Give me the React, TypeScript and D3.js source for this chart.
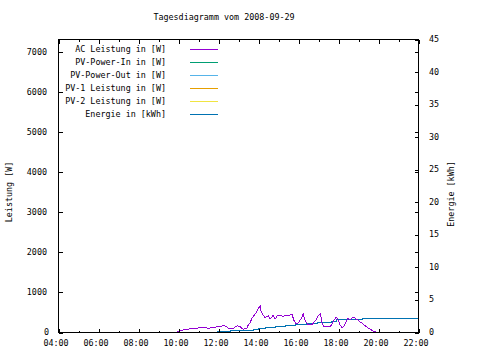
import React from "react";
import * as d3 from "d3";

const title = "Tagesdiagramm vom 2008-09-29";
const yLabel = "Leistung [W]";
const y2Label = "Energie [kWh]";

const xTickHours = [4, 6, 8, 10, 12, 14, 16, 18, 20, 22];
const xTickLabels = ["04:00", "06:00", "08:00", "10:00", "12:00", "14:00", "16:00", "18:00", "20:00", "22:00"];
const xMinorHours = [5, 7, 9, 11, 13, 15, 17, 19, 21];
const yTicks = [0, 1000, 2000, 3000, 4000, 5000, 6000, 7000];
const y2Ticks = [0, 5, 10, 15, 20, 25, 30, 35, 40, 45];

const seriesNames = [
  "AC Leistung in [W]",
  "PV-Power-In in [W]",
  "PV-Power-Out in [W]",
  "PV-1 Leistung in [W]",
  "PV-2 Leistung in [W]",
  "Energie in [kWh]",
];
const seriesColors = ["#9400d3", "#009e73", "#56b4e9", "#e69f00", "#f0e442", "#0072b2"];

const acTimes = [
  "09:56", "09:59", "10:05", "10:14", "10:23", "10:32", "10:41", "10:50", "10:59", "11:08",
  "11:17", "11:26", "11:35", "11:44", "11:53", "12:02", "12:11", "12:17", "12:23", "12:29",
  "12:35", "12:44", "12:56", "13:05", "13:14", "13:26", "13:29", "13:35", "13:41", "13:50",
  "13:56", "13:59", "14:05", "14:08", "14:14", "14:20", "14:29", "14:35", "14:44", "14:50",
  "14:56", "15:05", "15:14", "15:23", "15:29", "15:35", "15:41", "15:47", "15:53", "15:59",
  "16:05", "16:11", "16:14", "16:17", "16:23", "16:29", "16:35", "16:41", "16:47", "16:53",
  "16:59", "17:05", "17:08", "17:11", "17:17", "17:23", "17:29", "17:35", "17:41", "17:47",
  "17:53", "17:59", "18:05", "18:11", "18:17", "18:23", "18:29", "18:35", "18:41", "18:47",
  "18:53", "18:59", "19:05", "19:11", "19:17", "19:23", "19:29", "19:35", "19:41", "19:47",
  "19:53", "19:59", "20:05", "20:30", "20:50", "21:02",
];
const acWatts: (number | null)[] = [
  0, 25, 38, 62, 75, 88, 100, 100, 112, 125,
  125, 112, 112, 125, 138, 150, 162, 175, 150, 112,
  88, 100, 170, 145, 80, 112, 188, 250, 362, 462,
  538, 588, 670, 520, 438, 370, 420, 338, 425, 338,
  412, 438, 395, 438, 412, 438, 438, 288, 212, 238,
  312, 388, 462, 362, 262, 188, 188, 200, 262, 312,
  412, 462, 362, 212, 138, 138, 138, 150, 212, 312,
  388, 312, 188, 112, 162, 262, 362, 312, 362, 388,
  338, 312, 262, 238, 188, 150, 112, 88, 50, 25,
  12, 0, 0, null, 10, 10,
];

const energyTimes = [
  "09:59", "10:10", "11:56", "12:35", "13:44", "14:00", "14:20", "14:50", "15:20", "15:50",
  "16:25", "16:58", "17:40", "17:55", "19:12", "22:00",
];
const energyKwh = [
  0.02, 0.06, 0.2, 0.35, 0.5, 0.64, 0.8, 0.9, 1.05, 1.2,
  1.35, 1.5, 1.72, 1.92, 2.18, 2.18,
];

const toHour = (s: string) => {
  const [h, m] = s.split(":").map(Number);
  return h + m / 60;
};

const W = 480;
const H = 360;
const L = 58.5, R = 418.5, T = 39.5, B = 332.5;
const FONT = "DejaVu Sans Mono";
const FS = 8.4;

export default function App() {
  const x = d3.scaleLinear().domain([4, 22]).range([L, R]);
  const y = d3.scaleLinear().domain([0, 7315]).range([B, T]);
  const y2 = d3.scaleLinear().domain([0, 45]).range([B, T]);

  const acData = acTimes.map((t, i) => ({ h: toHour(t), v: acWatts[i] }));
  const acLine = d3
    .line<{ h: number; v: number | null }>()
    .defined((d) => d.v !== null)
    .x((d) => x(d.h))
    .y((d) => y(d.v as number));

  const enData = energyTimes.map((t, i) => ({ h: toHour(t), v: energyKwh[i] }));
  const enLine = d3
    .line<{ h: number; v: number }>()
    .curve(d3.curveStepAfter)
    .x((d) => x(d.h))
    .y((d) => y2(d.v));

  const legendTop = 49;
  const legendStep = 13;

  return (
    <svg
      width={W}
      height={H}
      style={{ position: "fixed", left: 0, top: 0, background: "#fff" }}
      fontFamily={FONT}
      fontSize={FS}
    >
      <rect x={0} y={0} width={W} height={H} fill="#fff" />
      <text x={224} y={20} textAnchor="middle" fill="#000">{title}</text>

      <defs>
        <clipPath id="plotclip">
          <rect x={L} y={T} width={R - L} height={B - T} />
        </clipPath>
      </defs>

      {/* legend */}
      {seriesNames.map((n, i) => (
        <g key={n}>
          <text x={166} y={legendTop + i * legendStep + 2.5} textAnchor="end" fill="#000">{n}</text>
          <line
            x1={190}
            x2={218}
            y1={legendTop + i * legendStep + 0.5}
            y2={legendTop + i * legendStep + 0.5}
            stroke={seriesColors[i]}
            strokeWidth={1}
            shapeRendering="crispEdges"
          />
        </g>
      ))}

      {/* data */}
      <g clipPath="url(#plotclip)">
        <path d={enLine(enData) || ""} fill="none" stroke={seriesColors[5]} strokeWidth={1} shapeRendering="crispEdges" />
        <path d={acLine(acData) || ""} fill="none" stroke={seriesColors[0]} strokeWidth={1} shapeRendering="crispEdges" />
      </g>

      {/* border */}
      <rect x={L} y={T} width={R - L} height={B - T} fill="none" stroke="#000" strokeWidth={1} shapeRendering="crispEdges" />

      {/* x ticks */}
      {xTickHours.map((h, i) => (
        <g key={"xt" + h}>
          <line x1={Math.round(x(h))} x2={Math.round(x(h))} y1={B} y2={B - 4} stroke="#000" shapeRendering="crispEdges" />
          <line x1={Math.round(x(h))} x2={Math.round(x(h))} y1={T} y2={T + 4} stroke="#000" shapeRendering="crispEdges" />
          <text x={x(h) - 2.5} y={346} textAnchor="middle" fill="#000">{xTickLabels[i]}</text>
        </g>
      ))}
      {xMinorHours.map((h) => (
        <g key={"xm" + h}>
          <line x1={Math.round(x(h))} x2={Math.round(x(h))} y1={B} y2={B - 2} stroke="#000" shapeRendering="crispEdges" />
          <line x1={Math.round(x(h))} x2={Math.round(x(h))} y1={T} y2={T + 2} stroke="#000" shapeRendering="crispEdges" />
        </g>
      ))}

      {/* y ticks (left + mirrored right) */}
      {yTicks.map((v) => (
        <g key={"yt" + v}>
          <line x1={L} x2={L + 4} y1={Math.round(y(v)) + 0.5} y2={Math.round(y(v)) + 0.5} stroke="#000" shapeRendering="crispEdges" />
          <line x1={R} x2={R - 4} y1={Math.round(y(v)) + 0.5} y2={Math.round(y(v)) + 0.5} stroke="#000" shapeRendering="crispEdges" />
          <text x={v === 0 ? 49 : 47} y={y(v) + 2.5} textAnchor="end" fill="#000">{v}</text>
        </g>
      ))}

      {/* y2 ticks */}
      {y2Ticks.map((v) => (
        <g key={"y2t" + v}>
          <line x1={R} x2={R - 4} y1={Math.round(y2(v)) + 0.5} y2={Math.round(y2(v)) + 0.5} stroke="#000" shapeRendering="crispEdges" />
          <text x={429} y={y2(v) + 2.5} textAnchor="start" fill="#000">{v}</text>
        </g>
      ))}

      <text transform={`translate(12,192) rotate(-90)`} textAnchor="middle" fill="#000">{yLabel}</text>
      <text transform={`translate(454,194) rotate(-90)`} textAnchor="middle" fill="#000">{y2Label}</text>
    </svg>
  );
}
